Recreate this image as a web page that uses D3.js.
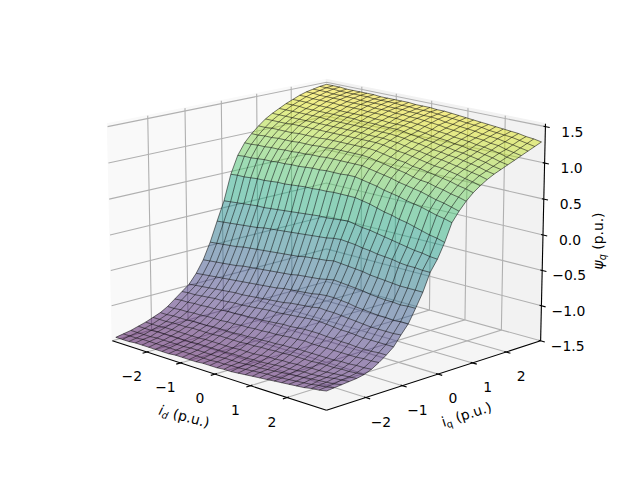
<!DOCTYPE html>
<html><head><meta charset="utf-8">
<script src="https://cdn.jsdelivr.net/npm/d3@7"></script>
<style>html,body{margin:0;padding:0;background:#fff}svg{display:block}text{font-family:"DejaVu Sans";font-size:13.9px;fill:#000}</style>
</head><body><svg id="c" width="640" height="480"></svg>
<script>
const idValues=[-3,-2.8,-2.6,-2.4,-2.2,-2,-1.8,-1.6,-1.4,-1.2,-1,-0.8,-0.6,-0.4,-0.2,0,0.2,0.4,0.6,0.8,1,1.2,1.4,1.6,1.8,2,2.2,2.4,2.6,2.8,3];
const iqValues=[-3,-2.8,-2.6,-2.4,-2.2,-2,-1.8,-1.6,-1.4,-1.2,-1,-0.8,-0.6,-0.4,-0.2,0,0.2,0.4,0.6,0.8,1,1.2,1.4,1.6,1.8,2,2.2,2.4,2.6,2.8,3];
const idTicks=[-2,-1,0,1,2];
const iqTicks=[-2,-1,0,1,2];
const psiTicks=[-1.5,-1,-0.5,0,0.5,1,1.5];
// rows: iq from low to high, columns: id from low to high
const psiQ=[
[-1.45,-1.45,-1.45,-1.44,-1.44,-1.44,-1.44,-1.44,-1.44,-1.43,-1.43,-1.43,-1.43,-1.42,-1.42,-1.42,-1.41,-1.41,-1.40,-1.39,-1.38,-1.37,-1.36,-1.35,-1.34,-1.33,-1.32,-1.31,-1.29,-1.28,-1.26],
[-1.43,-1.43,-1.43,-1.42,-1.42,-1.42,-1.42,-1.42,-1.42,-1.41,-1.41,-1.41,-1.41,-1.41,-1.40,-1.40,-1.39,-1.39,-1.38,-1.37,-1.36,-1.35,-1.35,-1.34,-1.33,-1.32,-1.31,-1.30,-1.28,-1.27,-1.25],
[-1.41,-1.41,-1.41,-1.41,-1.40,-1.40,-1.40,-1.40,-1.40,-1.39,-1.39,-1.39,-1.39,-1.39,-1.38,-1.38,-1.38,-1.37,-1.36,-1.36,-1.35,-1.34,-1.33,-1.32,-1.31,-1.30,-1.29,-1.28,-1.27,-1.26,-1.24],
[-1.38,-1.38,-1.38,-1.37,-1.37,-1.37,-1.37,-1.37,-1.37,-1.36,-1.36,-1.36,-1.36,-1.36,-1.35,-1.35,-1.35,-1.34,-1.34,-1.33,-1.32,-1.31,-1.31,-1.30,-1.29,-1.29,-1.28,-1.27,-1.25,-1.24,-1.23],
[-1.35,-1.35,-1.35,-1.34,-1.34,-1.34,-1.34,-1.34,-1.34,-1.33,-1.33,-1.33,-1.33,-1.33,-1.32,-1.32,-1.32,-1.31,-1.30,-1.30,-1.29,-1.29,-1.28,-1.28,-1.27,-1.27,-1.26,-1.25,-1.24,-1.23,-1.22],
[-1.31,-1.31,-1.31,-1.30,-1.30,-1.30,-1.29,-1.29,-1.29,-1.29,-1.28,-1.28,-1.28,-1.28,-1.27,-1.27,-1.26,-1.26,-1.25,-1.25,-1.24,-1.24,-1.24,-1.24,-1.23,-1.23,-1.23,-1.22,-1.22,-1.21,-1.20],
[-1.27,-1.27,-1.26,-1.26,-1.26,-1.25,-1.25,-1.25,-1.24,-1.24,-1.24,-1.24,-1.23,-1.23,-1.22,-1.22,-1.21,-1.21,-1.20,-1.20,-1.19,-1.19,-1.19,-1.19,-1.19,-1.19,-1.18,-1.18,-1.17,-1.17,-1.16],
[-1.21,-1.21,-1.20,-1.20,-1.19,-1.19,-1.18,-1.18,-1.18,-1.17,-1.17,-1.16,-1.16,-1.15,-1.15,-1.14,-1.14,-1.13,-1.12,-1.12,-1.11,-1.12,-1.12,-1.12,-1.12,-1.12,-1.12,-1.12,-1.11,-1.11,-1.10],
[-1.13,-1.12,-1.12,-1.11,-1.11,-1.10,-1.10,-1.09,-1.08,-1.08,-1.07,-1.07,-1.06,-1.06,-1.05,-1.04,-1.03,-1.03,-1.02,-1.01,-1.01,-1.01,-1.02,-1.02,-1.03,-1.03,-1.04,-1.04,-1.04,-1.03,-1.03],
[-1.05,-1.04,-1.04,-1.03,-1.02,-1.01,-1.01,-1.00,-0.99,-0.99,-0.98,-0.97,-0.96,-0.95,-0.95,-0.94,-0.93,-0.92,-0.91,-0.90,-0.90,-0.91,-0.92,-0.93,-0.93,-0.94,-0.95,-0.95,-0.95,-0.95,-0.95],
[-0.97,-0.96,-0.95,-0.94,-0.93,-0.92,-0.91,-0.90,-0.90,-0.89,-0.88,-0.87,-0.86,-0.85,-0.84,-0.82,-0.81,-0.80,-0.79,-0.77,-0.78,-0.78,-0.79,-0.80,-0.81,-0.82,-0.83,-0.83,-0.83,-0.83,-0.82],
[-0.84,-0.83,-0.82,-0.81,-0.80,-0.79,-0.78,-0.77,-0.76,-0.75,-0.74,-0.73,-0.72,-0.70,-0.69,-0.68,-0.67,-0.66,-0.64,-0.63,-0.63,-0.64,-0.65,-0.67,-0.68,-0.69,-0.70,-0.70,-0.71,-0.70,-0.70],
[-0.67,-0.66,-0.65,-0.64,-0.63,-0.62,-0.60,-0.59,-0.58,-0.57,-0.56,-0.55,-0.54,-0.53,-0.51,-0.50,-0.49,-0.48,-0.46,-0.44,-0.45,-0.46,-0.47,-0.48,-0.50,-0.51,-0.52,-0.52,-0.53,-0.52,-0.52],
[-0.44,-0.43,-0.42,-0.41,-0.40,-0.38,-0.37,-0.36,-0.35,-0.34,-0.33,-0.32,-0.31,-0.30,-0.28,-0.27,-0.26,-0.25,-0.23,-0.24,-0.25,-0.26,-0.27,-0.29,-0.30,-0.31,-0.32,-0.33,-0.33,-0.33,-0.33],
[-0.16,-0.15,-0.14,-0.13,-0.12,-0.11,-0.10,-0.08,-0.07,-0.06,-0.05,-0.04,-0.03,-0.02,-0.01,0,0.01,0.03,0.04,0.03,0.02,0,-0.01,-0.03,-0.04,-0.05,-0.07,-0.08,-0.08,-0.09,-0.09],
[0.11,0.12,0.13,0.14,0.15,0.16,0.16,0.17,0.18,0.19,0.20,0.21,0.22,0.23,0.24,0.24,0.25,0.26,0.27,0.25,0.23,0.22,0.20,0.18,0.16,0.14,0.12,0.10,0.09,0.07,0.06],
[0.47,0.48,0.48,0.49,0.50,0.50,0.51,0.52,0.52,0.53,0.54,0.55,0.55,0.56,0.56,0.57,0.57,0.57,0.57,0.55,0.53,0.50,0.47,0.45,0.42,0.40,0.37,0.34,0.31,0.29,0.26],
[0.72,0.73,0.73,0.74,0.75,0.75,0.76,0.76,0.77,0.77,0.78,0.79,0.79,0.80,0.80,0.80,0.81,0.81,0.79,0.77,0.75,0.72,0.70,0.68,0.65,0.63,0.61,0.58,0.55,0.53,0.50],
[0.88,0.88,0.89,0.89,0.90,0.90,0.91,0.91,0.92,0.92,0.93,0.93,0.94,0.94,0.94,0.94,0.94,0.94,0.92,0.90,0.88,0.86,0.83,0.81,0.79,0.77,0.74,0.71,0.69,0.66,0.63],
[0.99,0.99,1.00,1.00,1.01,1.01,1.01,1.02,1.02,1.02,1.03,1.03,1.04,1.04,1.04,1.04,1.04,1.03,1.01,0.99,0.97,0.95,0.93,0.90,0.88,0.87,0.84,0.82,0.79,0.77,0.74],
[1.08,1.08,1.09,1.09,1.09,1.09,1.10,1.10,1.10,1.10,1.11,1.11,1.11,1.11,1.11,1.11,1.11,1.10,1.08,1.06,1.04,1.03,1.00,0.99,0.97,0.95,0.93,0.91,0.88,0.86,0.83],
[1.16,1.16,1.16,1.16,1.17,1.17,1.17,1.17,1.17,1.17,1.17,1.17,1.17,1.17,1.17,1.17,1.17,1.16,1.14,1.12,1.11,1.09,1.07,1.05,1.03,1.02,1.00,0.98,0.95,0.93,0.90],
[1.22,1.22,1.22,1.22,1.22,1.22,1.22,1.22,1.22,1.22,1.22,1.22,1.22,1.22,1.21,1.21,1.21,1.20,1.19,1.17,1.15,1.14,1.12,1.10,1.09,1.07,1.05,1.03,1.01,0.99,0.96],
[1.27,1.27,1.27,1.27,1.27,1.27,1.27,1.26,1.26,1.26,1.26,1.26,1.26,1.26,1.25,1.25,1.25,1.24,1.23,1.21,1.20,1.18,1.16,1.15,1.13,1.12,1.10,1.08,1.06,1.03,1.01],
[1.32,1.32,1.32,1.31,1.31,1.31,1.31,1.31,1.31,1.31,1.31,1.30,1.30,1.30,1.29,1.29,1.29,1.28,1.26,1.25,1.23,1.22,1.20,1.19,1.17,1.16,1.14,1.12,1.10,1.07,1.05],
[1.36,1.36,1.36,1.35,1.35,1.35,1.35,1.34,1.34,1.34,1.34,1.34,1.33,1.33,1.32,1.32,1.32,1.31,1.29,1.28,1.26,1.25,1.24,1.22,1.21,1.19,1.18,1.16,1.14,1.11,1.09],
[1.40,1.40,1.39,1.39,1.39,1.39,1.38,1.38,1.38,1.38,1.37,1.37,1.37,1.36,1.36,1.35,1.35,1.34,1.33,1.31,1.30,1.29,1.27,1.26,1.25,1.23,1.22,1.20,1.18,1.15,1.13],
[1.43,1.43,1.42,1.42,1.42,1.42,1.41,1.41,1.41,1.41,1.40,1.40,1.40,1.39,1.39,1.38,1.38,1.37,1.36,1.35,1.33,1.32,1.31,1.29,1.28,1.27,1.25,1.24,1.21,1.19,1.17],
[1.45,1.45,1.45,1.44,1.44,1.44,1.44,1.43,1.43,1.43,1.43,1.42,1.42,1.42,1.41,1.41,1.40,1.40,1.39,1.37,1.36,1.35,1.34,1.33,1.31,1.30,1.29,1.27,1.25,1.23,1.21],
[1.47,1.47,1.47,1.46,1.46,1.46,1.46,1.46,1.45,1.45,1.45,1.45,1.44,1.44,1.43,1.43,1.43,1.42,1.41,1.40,1.39,1.38,1.37,1.36,1.34,1.33,1.32,1.31,1.29,1.27,1.25],
[1.48,1.48,1.48,1.47,1.47,1.47,1.47,1.47,1.46,1.46,1.46,1.46,1.46,1.45,1.45,1.45,1.44,1.44,1.43,1.42,1.41,1.40,1.39,1.38,1.37,1.36,1.35,1.34,1.32,1.31,1.29]
];
const xLim=[-3.05,3.05], yLim=[-3.05,3.05], zLim=[-1.5,1.54];
const boxXY=1.18, boxZ=0.866;
const elev=15*Math.PI/180, azim=-45*Math.PI/180, dist=10, pxScale=2595, cx=326.5, cy=233.5;

const sx=d3.scaleLinear().domain(xLim).range([0,boxXY]);
const sy=d3.scaleLinear().domain(yLim).range([0,boxXY]);
const sz=d3.scaleLinear().domain(zLim).range([0,boxZ]);
const R=[boxXY/2,boxXY/2,boxZ/2];
const w=[Math.cos(elev)*Math.cos(azim),Math.cos(elev)*Math.sin(azim),Math.sin(elev)];
const E=R.map((r,k)=>r+dist*w[k]);
const cross=(a,b)=>[a[1]*b[2]-a[2]*b[1],a[2]*b[0]-a[0]*b[2],a[0]*b[1]-a[1]*b[0]];
const dot=(a,b)=>a[0]*b[0]+a[1]*b[1]+a[2]*b[2];
let u=cross([0,0,1],w); const un=Math.hypot(...u); u=u.map(d=>d/un);
const v=cross(w,u);
function proj(x,y,z){
  const p=[sx(x)-E[0],sy(y)-E[1],sz(z)-E[2]];
  const d=-dot(p,w);
  return {x:cx+dot(p,u)/d*pxScale,y:cy-dot(p,v)/d*pxScale,d};
}
const svg=d3.select('#c');
const line=pts=>'M'+pts.map(p=>{const q=proj(...p);return q.x.toFixed(2)+','+q.y.toFixed(2)}).join('L');
const [x0,x1]=xLim,[y0,y1]=yLim,[z0,z1]=zLim;

// panes
const panes=[
 {c:'#f9f9f9',p:[[x0,y0,z0],[x0,y1,z0],[x0,y1,z1],[x0,y0,z1]]},
 {c:'#f2f2f2',p:[[x0,y1,z0],[x1,y1,z0],[x1,y1,z1],[x0,y1,z1]]},
 {c:'#f5f5f5',p:[[x0,y0,z0],[x1,y0,z0],[x1,y1,z0],[x0,y1,z0]]}
];
svg.append('g').selectAll('path').data(panes).join('path')
 .attr('d',d=>line(d.p)+'Z').attr('fill',d=>d.c).attr('stroke',d=>d.c).attr('stroke-width',1.4);

// grid
const grid=[
 ...idTicks.map(t=>[[t,y0,z0],[t,y1,z0],[t,y1,z1]]),
 ...iqTicks.map(t=>[[x1,t,z0],[x0,t,z0],[x0,t,z1]]),
 ...psiTicks.map(t=>[[x0,y0,t],[x0,y1,t],[x1,y1,t]])
];
svg.append('g').selectAll('path').data(grid).join('path')
 .attr('d',line).attr('fill','none').attr('stroke','#b0b0b0').attr('stroke-width',1.1);

// axis lines
const axes=[[[x0,y0,z0],[x1,y0,z0]],[[x1,y0,z0],[x1,y1,z0]],[[x1,y1,z0],[x1,y1,z1]]];
svg.append('g').selectAll('path').data(axes).join('path')
 .attr('d',line).attr('fill','none').attr('stroke','#000').attr('stroke-width',1.1);
const tickMarks=[
 ...idTicks.map(t=>[[t,y0-0.11,z0],[t,y0+0.05,z0]]),
 ...iqTicks.map(t=>[[x1+0.11,t,z0],[x1-0.05,t,z0]]),
 ...psiTicks.map(t=>[[x1+0.11,y1,t],[x1-0.05,y1,t]])
];
svg.append('g').selectAll('path').data(tickMarks).join('path')
 .attr('d',line).attr('fill','none').attr('stroke','#000').attr('stroke-width',1.1);

// surface
const color=d3.scaleSequential(d3.interpolateViridis).domain([d3.min(psiQ.flat()),d3.max(psiQ.flat())]);
const cells=[];
for(let i=0;i<iqValues.length-1;i++)for(let j=0;j<idValues.length-1;j++){
  const p=[[idValues[j],iqValues[i],psiQ[i][j]],[idValues[j+1],iqValues[i],psiQ[i][j+1]],
           [idValues[j+1],iqValues[i+1],psiQ[i+1][j+1]],[idValues[j],iqValues[i+1],psiQ[i+1][j]]];
  cells.push({p,z:d3.mean(p,d=>d[2]),depth:d3.mean(p,d=>proj(...d).d)});
}
cells.sort((a,b)=>b.depth-a.depth);
svg.append('g').selectAll('path').data(cells).join('path')
 .attr('d',d=>line(d.p)+'Z')
 .attr('fill',d=>color(d.z)).attr('fill-opacity',0.5).attr('stroke','none');
const meshLines=[
 ...iqValues.map((q,i)=>idValues.map((d,j)=>[d,q,psiQ[i][j]])),
 ...idValues.map((d,j)=>iqValues.map((q,i)=>[d,q,psiQ[i][j]]))
];
svg.append('g').selectAll('path').data(meshLines).join('path')
 .attr('d',line).attr('fill','none')
 .attr('stroke','#000').attr('stroke-opacity',0.7).attr('stroke-width',0.75);

// labels
const fmtZ=d=>(d<0?'\u2212':'')+Math.abs(d).toFixed(1);
const fmtI=d=>(d<0?'\u2212':'')+Math.abs(d);
const lab=svg.append('g');
lab.selectAll('.xl').data(idTicks).join('text').attr('class','xl').attr('text-anchor','middle')
 .attr('x',d=>proj(d,y0,z0).x-15).attr('y',d=>proj(d,y0,z0).y+29).text(fmtI);
lab.selectAll('.yl').data(iqTicks).join('text').attr('class','yl').attr('text-anchor','middle')
 .attr('x',d=>proj(x1,d,z0).x+15).attr('y',d=>proj(x1,d,z0).y+29).text(fmtI);
lab.selectAll('.zl').data(psiTicks).join('text').attr('class','zl').attr('text-anchor','middle')
 .attr('x',d=>proj(x1,y1,d).x+27).attr('y',d=>proj(x1,y1,d).y+10).text(fmtZ);
function mathLabel(sym,sub,x,y,rot,upright){
  const t=svg.append('text').attr('transform',`translate(${x},${y}) rotate(${rot})`).attr('text-anchor','middle');
  t.append('tspan').attr('font-style',upright?null:'italic').text(sym);
  t.append('tspan').attr('font-style',upright?null:'italic').attr('dy',2.5).style('font-size','9.7px').text(sub);
  t.append('tspan').attr('dy',-2.5).text(' (p.u.)');
}
mathLabel('i','d',183,421,15,false);
mathLabel('i','q',468,419,-18,true);
mathLabel('\u03c8','q',603,241,-90,false);
</script></body></html>
